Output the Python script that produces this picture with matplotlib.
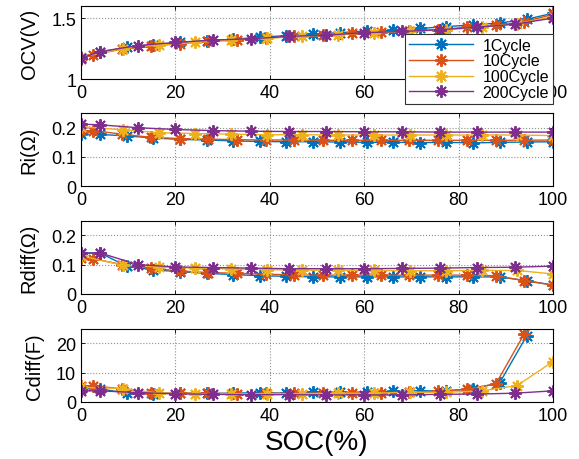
import numpy as np
import matplotlib
matplotlib.use("Agg")
import matplotlib.pyplot as plt
from matplotlib.ticker import FuncFormatter

plt.rcParams['font.family'] = ['Liberation Sans', 'DejaVu Sans']

nan = np.nan
labels = ['1Cycle', '10Cycle', '100Cycle', '200Cycle']
colors = ['#0072BD', '#D95319', '#EDB120', '#7E2F8E']

soc_1 = [0, 4, 9.65, 15.3, 20.9, 26.6, 32.2, 37.9, 43.5, 49.2, 54.8, 60.5, 66.1, 71.8, 77.4, 83.1, 88.7, 94.4, 100]
soc_10 = [0, 2.6, 8.7, 14.8, 20.9, 27.0, 33.0, 39.1, 45.2, 51.3, 57.4, 63.5, 69.6, 75.7, 81.8, 87.9, 93.9, 100]
soc_100 = [0, 8.9, 16.5, 24.1, 31.7, 39.3, 46.9, 54.5, 62.1, 69.7, 77.3, 84.9, 92.4, 100]
soc_200 = [0, 4, 12, 20, 28, 36, 44, 52, 60, 68, 76, 84, 92, 100]

ocv_1 = [1.17, 1.22, 1.26, 1.28, 1.30, 1.315, 1.325, 1.345, 1.355, 1.37, 1.38, 1.395, 1.40, 1.415, 1.43, 1.445, 1.46, 1.49, 1.54]
ocv_10 = [1.165, 1.20, 1.245, 1.27, 1.29, 1.31, 1.32, 1.335, 1.35, 1.36, 1.375, 1.385, 1.395, 1.405, 1.425, 1.44, 1.47, 1.53]
ocv_100 = [1.18, 1.25, 1.28, 1.30, 1.32, 1.335, 1.35, 1.365, 1.38, 1.39, 1.405, 1.425, 1.455, 1.51]
ocv_200 = [1.17, 1.225, 1.275, 1.30, 1.32, 1.33, 1.35, 1.36, 1.38, 1.39, 1.405, 1.425, 1.45, 1.50]

ri_1 = [0.178, 0.177, 0.172, 0.165, 0.160, 0.158, 0.155, 0.153, 0.152, 0.152, 0.151, 0.150, 0.150, 0.149, 0.150, 0.148, 0.150, 0.151, 0.152]
ri_10 = [0.188, 0.190, 0.178, 0.167, 0.163, 0.161, 0.159, 0.158, 0.158, 0.157, 0.157, 0.157, 0.157, 0.157, 0.157, 0.157, 0.157, 0.158]
ri_100 = [0.203, 0.193, 0.183, 0.180, 0.178, 0.176, 0.176, 0.175, 0.175, 0.175, 0.175, 0.175, 0.175, 0.173]
ri_200 = [0.212, 0.210, 0.200, 0.194, 0.190, 0.188, 0.187, 0.187, 0.186, 0.186, 0.185, 0.185, 0.185, 0.185]

rd_1 = [0.140, 0.140, 0.095, 0.082, 0.076, 0.070, 0.066, 0.062, 0.060, 0.058, 0.058, 0.058, 0.058, 0.058, 0.058, 0.058, 0.058, 0.045, 0.030]
rd_10 = [0.122, 0.120, 0.100, 0.088, 0.078, 0.073, 0.070, 0.067, 0.065, 0.064, 0.064, 0.064, 0.064, 0.064, 0.064, 0.062, 0.045, 0.030]
rd_100 = [0.130, 0.098, 0.092, 0.088, 0.085, 0.083, 0.081, 0.080, 0.080, 0.079, 0.079, 0.080, 0.080, 0.068]
rd_200 = [0.138, 0.140, 0.100, 0.092, 0.090, 0.088, 0.086, 0.086, 0.086, 0.087, 0.088, 0.090, 0.091, 0.095]

cd_1 = [4.5, 4.5, 3.0, 2.8, 3.0, 2.9, 3.0, 3.2, 3.0, 3.5, 3.3, 3.4, 3.6, 3.8, 3.8, 4.6, 6.5, 22.5, nan]
cd_10 = [5.5, 5.5, 4.5, 3.0, 3.0, 3.0, 2.8, 2.9, 3.0, 3.0, 3.2, 3.2, 3.4, 3.6, 4.3, 6.2, 23.2, nan]
cd_100 = [5.0, 4.6, 3.0, 2.8, 2.8, 2.8, 2.8, 3.0, 3.0, 3.3, 3.3, 3.8, 5.6, 13.8]
cd_200 = [3.8, 3.8, 3.2, 2.8, 2.6, 2.5, 2.5, 2.4, 2.4, 2.4, 2.6, 2.7, 3.0, 3.8]

xs = [soc_1, soc_10, soc_100, soc_200]
panels = [
    ([ocv_1, ocv_10, ocv_100, ocv_200], 'OCV(V)', (1, 1.6), [1, 1.5]),
    ([ri_1, ri_10, ri_100, ri_200], 'Ri(\u03a9)', (0, 0.25), [0, 0.1, 0.2]),
    ([rd_1, rd_10, rd_100, rd_200], 'Rdiff(\u03a9)', (0, 0.25), [0, 0.1, 0.2]),
    ([cd_1, cd_10, cd_100, cd_200], 'Cdiff(F)', (0, 25), [0, 10, 20]),
]

fig = plt.figure(figsize=(5.79, 4.60), dpi=100)
left, width = 0.140, 0.815
bottoms = [0.826, 0.593, 0.359, 0.124]
h = 0.159
axes = []
fmt = FuncFormatter(lambda v, p: '%g' % v)
asterisk = (8, 2, 0)
for i, (ys, ylab, ylim, yt) in enumerate(panels):
    ax = fig.add_axes([left, bottoms[i], width, h])
    for x, y, c, lab in zip(xs, ys, colors, labels):
        ax.plot(x, y, color=c, marker=asterisk, markersize=9, linewidth=1.0,
                markeredgewidth=1.4, label=lab)
    ax.set_xlim(0, 100)
    ax.set_ylim(*ylim)
    ax.set_xticks([0, 20, 40, 60, 80, 100])
    ax.set_yticks(yt)
    ax.yaxis.set_major_formatter(fmt)
    ax.grid(True, linestyle=':', color='#909090', linewidth=0.8)
    ax.tick_params(direction='in', top=True, right=True, labelsize=13, length=3, width=0.6)
    for s in ax.spines.values():
        s.set_linewidth(0.8)
    ax.set_ylabel(ylab, fontsize=14.5, labelpad=9)
    axes.append(ax)

leg = axes[0].legend(loc='upper right', bbox_to_anchor=(1.0, 0.62), borderaxespad=0,
                     fontsize=11.5, frameon=True, fancybox=False, edgecolor='#333333',
                     framealpha=1, handlelength=4.0, handletextpad=0.6,
                     labelspacing=0.05, borderpad=0.25)
leg.get_frame().set_linewidth(0.8)
axes[3].set_xlabel('SOC(%)', fontsize=20, labelpad=4)
fig.align_ylabels(axes)

fig.savefig('out.png', dpi=100)
